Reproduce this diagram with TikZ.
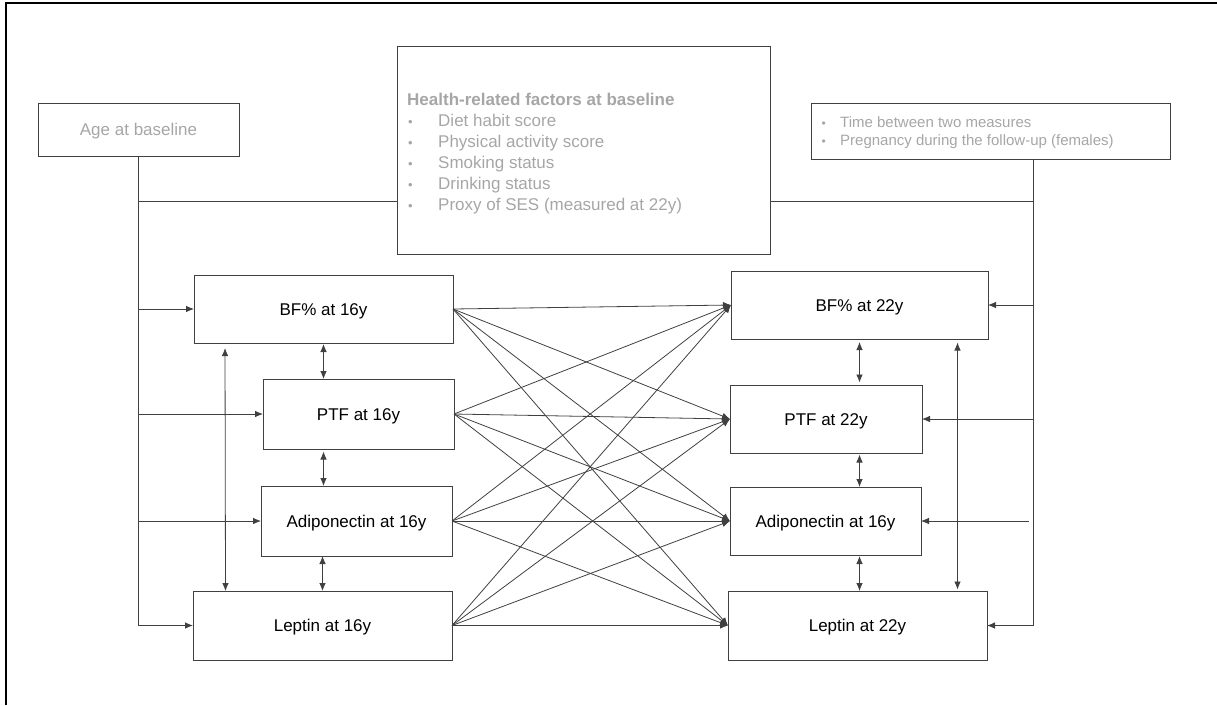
\documentclass[tikz,border=0pt]{standalone}
\usepackage{fontspec}
\setmainfont{Liberation Sans}
\usetikzlibrary{arrows.meta,calc}
\definecolor{linec}{HTML}{404040}
\definecolor{greytext}{HTML}{A6A6A6}
\tikzset{
  box/.style={draw=linec, line width=0.9pt, inner sep=0pt, outer sep=0pt, font=\fontsize{17}{21}\selectfont, text=black, text height=12.2pt, text depth=0pt},
  greybox/.style={box, text=greytext},
  conn/.style={draw=linec, line width=0.8pt},
  arr/.style={conn, -{Latex[length=8pt,width=6.5pt]}},
  darr/.style={conn, {Latex[length=8pt,width=6.5pt]}-{Latex[length=8pt,width=6.5pt]}},
}
\newcommand{\bul}{\makebox[31pt][l]{\hspace{1pt}\fontsize{13}{13}\selectfont\textbullet}}
\newcommand{\bulsm}{\makebox[28pt][l]{\hspace{9.5pt}\fontsize{12}{12}\selectfont\textbullet}}
\begin{document}
\begin{tikzpicture}[x=1pt,y=-1pt]
\useasboundingbox (0,0) rectangle (1217,705);
% frame (top and left edges only visible)
\draw[black, line width=2.4pt] (6,705) -- (6,3) -- (1217,3);

% covariate boxes
\node[greybox, minimum width=201pt, minimum height=53pt] (age) at (138.5,129.5) {Age at baseline};
\node[greybox, minimum width=373pt, minimum height=208pt] (health) at (583.5,150) {};
\node[text=greytext, inner sep=0pt, anchor=west, align=left, font=\fontsize{17}{21}\selectfont] (htext) at (407,153.5)
  {\textbf{Health-related factors at baseline}\\
   \bul Diet habit score\\
   \bul Physical activity score\\
   \bul Smoking status\\
   \bul Drinking status\\
   \bul Proxy of SES (measured at 22y)};
\node[greybox, minimum width=359pt, minimum height=56pt] (cov) at (990.5,131) {};
\node[text=greytext, inner sep=0pt, anchor=west, align=left, font=\fontsize{15}{18.3}\selectfont] (ctext) at (812,132.5)
  {\bulsm Time between two measures\\
   \bulsm Pregnancy during the follow-up (females)};

% 16y boxes
\node[box, minimum width=259pt, minimum height=68pt] (bf16) at (323.5,309) {BF\% at 16y};
\node[box, minimum width=191pt, minimum height=70pt] (ptf16) at (358.5,414) {PTF at 16y};
\node[box, minimum width=191pt, minimum height=70pt] (adi16) at (356.5,521) {Adiponectin at 16y};
\node[box, minimum width=259pt, minimum height=69pt] (lep16) at (322.5,625.5) {Leptin at 16y};

% 22y boxes
\node[box, minimum width=257pt, minimum height=68pt] (bf22) at (859.5,305) {BF\% at 22y};
\node[box, minimum width=192pt, minimum height=68pt] (ptf22) at (826,419) {PTF at 22y};
\node[box, minimum width=191pt, minimum height=68pt] (adi22) at (825.5,521) {Adiponectin at 16y};
\node[box, minimum width=259pt, minimum height=69pt] (lep22) at (857.5,625.5) {Leptin at 22y};

% helper coordinates
\coordinate (hl) at (0,201);
\coordinate (rtop) at (1033,159);

% left covariate lines
\draw[conn] (age.south |- hl) -- (health.west |- hl);
\draw[arr] (age.south) |- (lep16.west);
\draw[arr] (age.south |- bf16.west) -- (bf16.west);
\draw[arr] (age.south |- ptf16.west) -- (ptf16.west);
\draw[arr] (age.south |- adi16.west) -- (adi16.west);

% right covariate lines
\draw[conn] (health.east |- hl) -- (rtop |- hl);
\draw[arr] (rtop) |- (lep22.east);
\draw[arr] (rtop |- bf22.east) -- (bf22.east);
\draw[arr] (rtop |- ptf22.east) -- (ptf22.east);
\draw[arr] ($(rtop |- adi22.east)+(-4,0)$) -- (adi22.east);

% left correlations
\draw[darr, shorten <=1pt] (bf16.south) -- (bf16.south |- ptf16.north);
\draw[darr, shorten <=2.5pt] (bf16.south |- ptf16.south) -- (bf16.south |- adi16.north);
\draw[darr] (lep16.north |- adi16.south) -- (lep16.north);
\draw[darr, shorten <=5pt] ($(bf16.south west)+(31,0)$) -- ($(lep16.north west)+(32.5,0)$);

% right correlations
\draw[darr, shorten <=3pt, shorten >=2.5pt] (bf22.south) -- (bf22.south |- ptf22.north);
\draw[darr, shorten <=1.5pt] (bf22.south |- ptf22.south) -- (bf22.south |- adi22.north);
\draw[darr, shorten <=1pt] (bf22.south |- adi22.south) -- (bf22.south |- lep22.north);
\draw[darr, shorten <=3.5pt, shorten >=1.5pt] ($(bf22.south west)+(226.5,0)$) -- ($(lep22.north west)+(229.5,0)$);

% cross-lagged paths
\foreach \s in {bf16,ptf16,adi16,lep16}{
  \foreach \t in {bf22,ptf22,adi22,lep22}{
    \draw[arr] (\s.east) -- (\t.west);
  }
}
\end{tikzpicture}
\end{document}
